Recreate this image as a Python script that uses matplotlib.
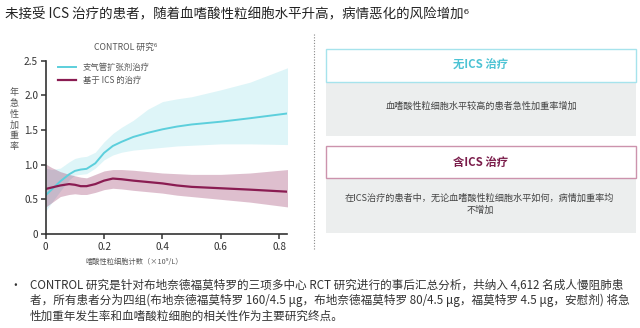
import matplotlib
matplotlib.use('Agg')
import matplotlib.pyplot as plt
from matplotlib.patches import Rectangle

plt.rcParams['font.family'] = ['Noto Sans CJK SC', 'DejaVu Sans']

# 嗜酸性粒细胞计数 (x10^9/L)
eos = [0, 0.02, 0.05, 0.08, 0.10, 0.12, 0.14, 0.17, 0.20, 0.23, 0.26,
       0.30, 0.35, 0.40, 0.45, 0.50, 0.60, 0.70, 0.83]

# 支气管扩张剂治疗
bd_rate = [0.56, 0.64, 0.76, 0.86, 0.91, 0.93, 0.94, 1.02, 1.17, 1.27, 1.33,
           1.40, 1.46, 1.51, 1.55, 1.58, 1.62, 1.67, 1.74]
bd_hi = [0.95, 0.93, 0.95, 1.04, 1.09, 1.11, 1.12, 1.18, 1.33, 1.45, 1.54,
         1.64, 1.80, 1.91, 1.95, 1.98, 2.08, 2.19, 2.40]
bd_lo = [0.33, 0.45, 0.62, 0.78, 0.85, 0.86, 0.87, 0.95, 1.07, 1.14, 1.18,
         1.21, 1.23, 1.25, 1.27, 1.28, 1.30, 1.30, 1.29]

# 基于 ICS 的治疗
ics_rate = [0.65, 0.67, 0.70, 0.72, 0.71, 0.69, 0.69, 0.72, 0.77, 0.80, 0.79,
            0.77, 0.75, 0.73, 0.70, 0.68, 0.66, 0.64, 0.61]
ics_hi = [1.01, 0.96, 0.90, 0.86, 0.84, 0.82, 0.81, 0.86, 0.91, 0.93, 0.93,
          0.92, 0.90, 0.88, 0.87, 0.86, 0.86, 0.88, 0.93]
ics_lo = [0.39, 0.45, 0.54, 0.57, 0.58, 0.57, 0.57, 0.60, 0.64, 0.66, 0.65,
          0.63, 0.61, 0.59, 0.56, 0.54, 0.50, 0.46, 0.39]

xticks = [0, 0.2, 0.4, 0.6, 0.8]
yticks = [0, 0.5, 1.0, 1.5, 2.0, 2.5]

cyan = '#5ccfdc'
plum = '#8a1c52'
W, H = 640, 328

fig = plt.figure(figsize=(6.4, 3.28), dpi=100)

# 背景层：标题、右侧方框、底部说明（像素坐标）
bg = fig.add_axes([0, 0, 1, 1])
bg.set_xlim(0, W)
bg.set_ylim(H, 0)
bg.axis('off')

bg.text(5, 14, '未接受 ICS 治疗的患者，随着血嗜酸性粒细胞水平升高，病情恶化的风险增加⁶',
        fontsize=9.7, color='#222222', va='center', ha='left')

bg.plot([314, 314], [34, 250], color='#888888', lw=0.8, ls=(0, (1, 1.5)))

# 无ICS 治疗
bg.add_patch(Rectangle((326, 81.5), 310, 54, facecolor='#eceeee', edgecolor='none'))
bg.add_patch(Rectangle((326, 49), 310, 32.5, facecolor='white', edgecolor='#a6e3ec', lw=1))
bg.text(481, 65.5, '无ICS 治疗', fontsize=8.2, fontweight='bold', color='#4cc3d4',
        ha='center', va='center')
bg.text(481, 106, '血嗜酸性粒细胞水平较高的患者急性加重率增加', fontsize=6.6,
        color='#444444', ha='center', va='center')

# 含ICS 治疗
bg.add_patch(Rectangle((326, 178), 310, 54.5, facecolor='#eceeee', edgecolor='none'))
bg.add_patch(Rectangle((326, 145.5), 310, 32.5, facecolor='white', edgecolor='#cc93ad', lw=1))
bg.text(481, 162.5, '含ICS 治疗', fontsize=8.2, fontweight='bold', color='#7a1c4a',
        ha='center', va='center')
bg.text(479, 198, '在ICS治疗的患者中，无论血嗜酸性粒细胞水平如何，病情加重率均',
        fontsize=6.6, color='#444444', ha='center', va='center')
bg.text(480, 210.5, '不增加', fontsize=6.6, color='#444444', ha='center', va='center')

# 底部说明
notes = ['CONTROL 研究是针对布地奈德福莫特罗的三项多中心 RCT 研究进行的事后汇总分析，共纳入 4,612 名成人慢阻肺患',
         '者，所有患者分为四组(布地奈德福莫特罗 160/4.5 μg，布地奈德福莫特罗 80/4.5 μg，福莫特罗 4.5 μg，安慰剂) 将急',
         '性加重年发生率和血嗜酸粒细胞的相关性作为主要研究终点。']
bg.text(9, 285, '•', fontsize=8.4, color='#333333', ha='left', va='center')
for i, line in enumerate(notes):
    bg.text(30, 285 + i * 15.5, line, fontsize=8.35, color='#333333', ha='left', va='center')

# 图表标题、y轴标签、x轴标签
bg.text(126, 47, 'CONTROL 研究⁶', fontsize=6.3, color='#555555', ha='center', va='center')
for i, ch in enumerate('年急性加重率'):
    bg.text(14, 93 + i * 10.8, ch, fontsize=6.5, color='#555555', ha='center', va='center')
bg.text(134, 262, '嗜酸性粒细胞计数（×10⁹/L）', fontsize=5.2, color='#555555',
        ha='center', va='center')

# 图表
ax = fig.add_axes([45.7 / W, 1 - 234 / H, (287 - 45.7) / W, (234 - 60.7) / H])
ax.patch.set_alpha(0)
ax.fill_between(eos, bd_lo, bd_hi, color=cyan, alpha=0.2, lw=0)
ax.fill_between(eos, ics_lo, ics_hi, color=plum, alpha=0.28, lw=0)
ax.plot(eos, bd_rate, color=cyan, lw=1.4, label='支气管扩张剂治疗')
ax.plot(eos, ics_rate, color=plum, lw=1.6, label='基于 ICS 的治疗')

ax.set_xlim(0, 0.827)
ax.set_ylim(0, 2.5)
ax.set_xticks(xticks)
ax.set_xticklabels(['0', '0.2', '0.4', '0.6', '0.8'])
ax.set_yticks(yticks)
ax.set_yticklabels(['0', '0.5', '1.0', '1.5', '2.0', '2.5'])
for s in ['top', 'right']:
    ax.spines[s].set_visible(False)
for s in ['left', 'bottom']:
    ax.spines[s].set_color('#333333')
    ax.spines[s].set_linewidth(1.2)
ax.tick_params(length=3.5, width=1.1, color='#333333', labelsize=7.2,
               labelcolor='#333333', pad=2)

ax.legend(loc='upper left', bbox_to_anchor=(0.02, 1.03), frameon=False, fontsize=6,
          handlelength=2.2, handletextpad=0.8, labelspacing=0.5, labelcolor='#555555')

fig.savefig('out.png', dpi=100)
